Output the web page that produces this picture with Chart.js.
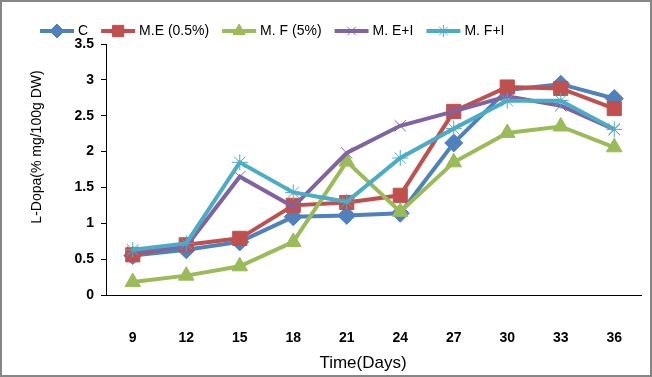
<!DOCTYPE html>
<html>
<head>
<meta charset="utf-8">
<script src="https://cdn.jsdelivr.net/npm/chart.js@4.4.0/dist/chart.umd.min.js"></script>
<style>
  html, body { margin: 0; padding: 0; background: #fff; }
  #chart { display: block; }
</style>
</head>
<body>
<canvas id="chart" width="652" height="377"></canvas>
<script>
// Data
const days = ['9', '12', '15', '18', '21', '24', '27', '30', '33', '36'];
const seriesNames = ['C', 'M.E (0.5%)', 'M. F (5%)', 'M. E+I', 'M. F+I'];
const cValues   = [0.55, 0.63, 0.74, 1.09, 1.11, 1.14, 2.12, 2.86, 2.94, 2.74];
const meValues  = [0.56, 0.70, 0.79, 1.25, 1.29, 1.39, 2.56, 2.90, 2.88, 2.60];
const mfValues  = [0.18, 0.27, 0.40, 0.74, 1.86, 1.16, 1.85, 2.26, 2.35, 2.06];
const meiValues = [0.60, 0.68, 1.65, 1.23, 1.98, 2.36, 2.56, 2.77, 2.64, 2.31];
const mfiValues = [0.63, 0.72, 1.85, 1.43, 1.30, 1.91, 2.32, 2.71, 2.71, 2.31];
const yTicks = [0, 0.5, 1, 1.5, 2, 2.5, 3, 3.5];
const xTitle = 'Time(Days)';
const yTitle = 'L-Dopa(% mg/100g DW)';

const FONT = "'Liberation Sans', Arial, sans-serif";

function makeSet(label, data, color, style, radius, order) {
  return {
    label: label,
    data: data,
    borderColor: color,
    backgroundColor: color,
    borderWidth: 4,
    pointStyle: style,
    pointRadius: radius,
    pointHoverRadius: radius,
    pointBorderColor: color,
    pointBackgroundColor: color,
    pointBorderWidth: 1,
    tension: 0,
    order: order
  };
}

const datasets = [
  makeSet(seriesNames[0], cValues,   '#4F81BD', 'rectRot',  9, 5),
  makeSet(seriesNames[1], meValues,  '#C0504D', 'rect',    10, 4),
  makeSet(seriesNames[2], mfValues,  '#9BBB59', 'triangle', 9, 3),
  makeSet(seriesNames[3], meiValues, '#8064A2', 'crossRot', 8, 2),
  makeSet(seriesNames[4], mfiValues, '#4BACC6', 'star',     8, 1)
];

// Excel-like legend (line with marker in the middle), axis titles and frame
const decorPlugin = {
  id: 'decor',
  afterDraw(chart) {
    const ctx = chart.ctx;
    ctx.save();
    ctx.font = '14px ' + FONT;
    ctx.textBaseline = 'middle';
    let x = 40;
    const y = 31;
    datasets.forEach(ds => {
      ctx.strokeStyle = ds.borderColor;
      ctx.lineWidth = 4;
      ctx.beginPath();
      ctx.moveTo(x, y);
      ctx.lineTo(x + 34, y);
      ctx.stroke();
      ctx.fillStyle = ds.pointBackgroundColor;
      ctx.strokeStyle = ds.pointBorderColor;
      ctx.lineWidth = ds.pointBorderWidth;
      Chart.helpers.drawPoint(ctx, { pointStyle: ds.pointStyle, radius: ds.pointRadius - 2, borderWidth: ds.pointBorderWidth }, x + 17, y);
      ctx.fillStyle = '#000';
      ctx.fillText(ds.label, x + 38, y);
      x += 38 + ctx.measureText(ds.label).width + 13;
    });

    // axis titles
    ctx.fillStyle = '#000';
    ctx.textAlign = 'center';
    ctx.font = '17px ' + FONT;
    ctx.fillText(xTitle, 363, 363);
    ctx.translate(37, 147);
    ctx.rotate(-Math.PI / 2);
    ctx.font = '14px ' + FONT;
    ctx.fillText(yTitle, 0, 0);
    ctx.setTransform(1, 0, 0, 1, 0, 0);

    // outer frame
    ctx.strokeStyle = '#868686';
    ctx.lineWidth = 2;
    ctx.strokeRect(1, 1, chart.width - 2, chart.height - 2);
    ctx.restore();
  }
};

new Chart(document.getElementById('chart'), {
  type: 'line',
  data: { labels: days, datasets: datasets },
  plugins: [decorPlugin],
  options: {
    responsive: false,
    animation: false,
    layout: { padding: { left: 0, top: 44, right: 10, bottom: 0 } },
    plugins: {
      legend: { display: false },
      tooltip: { enabled: false }
    },
    scales: {
      x: {
        offset: true,
        grid: { display: false },
        border: { display: true, color: '#000', width: 1 },
        ticks: { color: '#000', font: { family: FONT, size: 14, weight: 'bold' }, padding: 27 },
        afterFit(scale) { scale.height = 82; }
      },
      y: {
        min: 0,
        max: 3.5,
        afterBuildTicks(scale) { scale.ticks = yTicks.map(v => ({ value: v })); },
        grid: { drawOnChartArea: false, drawTicks: true, tickLength: 5, tickColor: '#000' },
        border: { display: true, color: '#000', width: 1 },
        ticks: { color: '#000', font: { family: FONT, size: 14, weight: 'bold' }, padding: 7, callback: v => String(v) },
        afterFit(scale) { scale.width = 106; }
      }
    }
  }
});
</script>
</body>
</html>
